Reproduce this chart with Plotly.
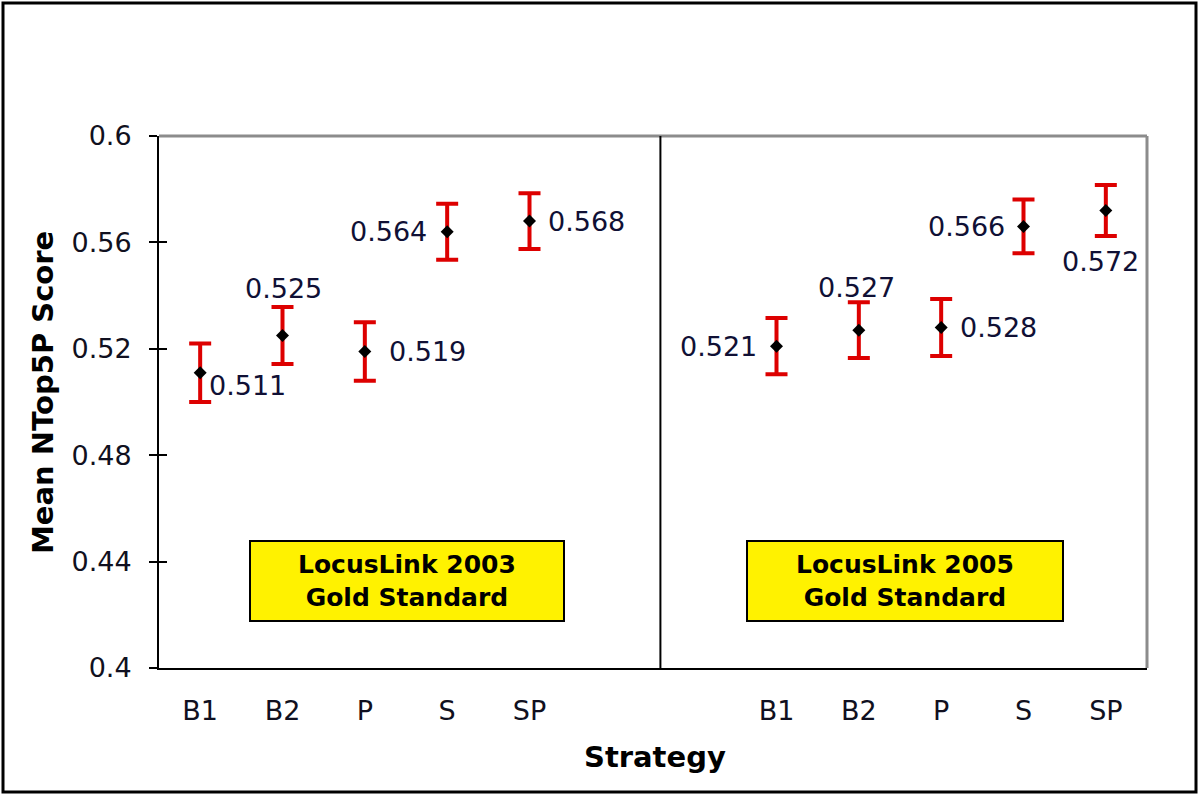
import plotly.graph_objects as go

categories = ["B1", "B2", "P", "S", "SP"]
score_2003 = [0.511, 0.525, 0.519, 0.564, 0.568]
err_2003 = [0.011, 0.0107, 0.011, 0.0105, 0.0105]
score_2005 = [0.521, 0.527, 0.528, 0.566, 0.572]
err_2005 = [0.0106, 0.0105, 0.0107, 0.0101, 0.0096]
y_ticks = [0.4, 0.44, 0.48, 0.52, 0.56, 0.6]
panel_labels = ["LocusLink 2003<br>Gold Standard", "LocusLink 2005<br>Gold Standard"]

x_left = list(range(len(categories)))
x_right = [i + 7 for i in range(len(categories))]

# label placement styles (xanchor, xshift, yshift)
lab_2003 = [("left", 7, -13), ("center", 1, 47), ("left", 22, 0), ("right", -18, 0), ("left", 16, 0)]
lab_2005 = [("right", -18, 0), ("center", -2, 43), ("left", 17, 0), ("right", -17, 0), ("center", -5, -51)]

FONT = "DejaVu Sans"
RED = "#DD0000"

# plot area in pixels
L, R, T, B = 159, 1147, 136, 668
W, H = 1200, 797
def px(x):
    return (x - L) / (R - L)
def py(y):
    return (B - y) / (B - T)

fig = go.Figure()
for xs, ys, es in [(x_left, score_2003, err_2003), (x_right, score_2005, err_2005)]:
    fig.add_trace(go.Scatter(
        x=xs, y=ys, mode="markers",
        marker=dict(symbol="diamond", size=10, color="black"),
        error_y=dict(type="data", array=es, visible=True, color=RED, thickness=4, width=11),
        showlegend=False, hoverinfo="skip",
    ))

annotations = []
for xs, ys, labs in [(x_left, score_2003, lab_2003), (x_right, score_2005, lab_2005)]:
    for x, y, (anc, dx, dy) in zip(xs, ys, labs):
        annotations.append(dict(
            x=x, y=y, xref="x", yref="y", text=f"{y:.3f}", showarrow=False,
            xanchor=anc, yanchor="middle", xshift=dx, yshift=dy,
            font=dict(family=FONT, size=27, color="#101035"),
        ))

# panel boxes
box_px = [(250, 564), (747, 1063)]
for (bx0, bx1), txt in zip(box_px, panel_labels):
    annotations.append(dict(
        x=px((bx0 + bx1) / 2), y=py(581), xref="paper", yref="paper",
        text=f"<b>{txt}</b>", showarrow=False, xanchor="center", yanchor="middle",
        font=dict(family=FONT, size=25, color="black"), align="center",
    ))

annotations.append(dict(
    x=px(43), y=py(393), xref="paper", yref="paper", text="<b>Mean NTop5P Score</b>",
    textangle=-90, showarrow=False, xanchor="center", yanchor="middle",
    font=dict(family=FONT, size=29, color="black"),
))
annotations.append(dict(
    x=px(655), y=py(757), xref="paper", yref="paper", text="<b>Strategy</b>",
    showarrow=False, xanchor="center", yanchor="middle",
    font=dict(family=FONT, size=29, color="black"),
))

shapes = []
for (bx0, bx1) in box_px:
    shapes.append(dict(type="rect", xref="paper", yref="paper",
                       x0=px(bx0), x1=px(bx1), y0=py(621), y1=py(541),
                       fillcolor="#FFF200", line=dict(color="black", width=2), layer="below"))
# top and right border (gray)
shapes.append(dict(type="line", xref="paper", yref="paper", x0=0, x1=1, y0=1, y1=1,
                   line=dict(color="#8c8c8c", width=3)))
shapes.append(dict(type="line", xref="paper", yref="paper", x0=1, x1=1, y0=0, y1=1,
                   line=dict(color="#8c8c8c", width=3)))
# divider between panels
shapes.append(dict(type="line", xref="x", yref="paper", x0=5.59, x1=5.59, y0=0, y1=1,
                   line=dict(color="black", width=2)))
# outer frame
shapes.append(dict(type="rect", xref="paper", yref="paper",
                   x0=px(3), x1=px(1196), y0=py(792), y1=py(3),
                   line=dict(color="black", width=3)))

fig.update_layout(
    width=W, height=H,
    margin=dict(l=L, r=W - R, t=T, b=H - B),
    plot_bgcolor="white", paper_bgcolor="white",
    annotations=annotations, shapes=shapes,
    xaxis=dict(range=[-0.5, 11.5], tickmode="array",
               tickvals=x_left + x_right, ticktext=categories + categories,
               showgrid=False, zeroline=False, showline=True, linecolor="black", linewidth=2,
               ticks="", ticklabelstandoff=18,
               tickfont=dict(family=FONT, size=27, color="#101020")),
    yaxis=dict(range=[0.4, 0.6], tickmode="array", tickvals=y_ticks,
               ticktext=[f"{v:g}" for v in y_ticks],
               showgrid=False, zeroline=False, showline=True, linecolor="black", linewidth=2,
               ticks="outside", ticklen=8, tickwidth=2, tickcolor="black",
               ticklabelstandoff=12,
               tickfont=dict(family=FONT, size=27, color="#101020")),
    yaxis2=dict(range=[0.4, 0.6], overlaying="y", side="left", tickmode="array",
                tickvals=y_ticks, showticklabels=False, showgrid=False, zeroline=False,
                ticks="inside", ticklen=8, tickwidth=2, tickcolor="black", showline=False),
)
fig.add_trace(go.Scatter(x=[None], y=[None], yaxis="y2", showlegend=False, hoverinfo="skip"))

fig.write_html("out.html", config={"displayModeBar": False},
               post_script="document.body.style.margin='0';document.body.style.overflow='hidden';")
